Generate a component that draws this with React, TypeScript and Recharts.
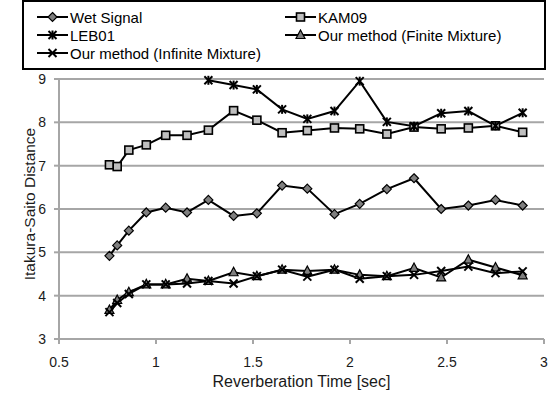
import React from 'react';
import { LineChart, Line, XAxis, YAxis, CartesianGrid } from 'recharts';

// reverberation times (sec) shared by every series
const times = [0.76, 0.8, 0.86, 0.95, 1.05, 1.16, 1.27, 1.4, 1.52, 1.65, 1.78, 1.92, 2.05, 2.19, 2.33, 2.47, 2.61, 2.75, 2.89];

const wetSignal = [4.92, 5.16, 5.5, 5.92, 6.03, 5.92, 6.21, 5.84, 5.9, 6.54, 6.47, 5.88, 6.12, 6.46, 6.71, 6.0, 6.08, 6.21, 6.08];
const kam09 = [7.02, 6.98, 7.36, 7.48, 7.7, 7.7, 7.82, 8.27, 8.05, 7.76, 7.81, 7.87, 7.85, 7.73, 7.89, 7.85, 7.87, 7.92, 7.77];
// LEB01 only starts at 1.27 sec
const leb01Times = times.slice(6);
const leb01 = [8.97, 8.86, 8.76, 8.3, 8.08, 8.26, 8.95, 8.01, 7.91, 8.21, 8.26, 7.92, 8.22];
const finiteMix = [3.67, 3.9, 4.08, 4.26, 4.26, 4.39, 4.34, 4.54, 4.45, 4.6, 4.57, 4.6, 4.48, 4.45, 4.64, 4.42, 4.83, 4.65, 4.47];
const infiniteMix = [3.62, 3.83, 4.04, 4.26, 4.26, 4.28, 4.34, 4.28, 4.45, 4.6, 4.44, 4.6, 4.39, 4.45, 4.48, 4.57, 4.67, 4.52, 4.56];

const xTicks = [0.5, 1, 1.5, 2, 2.5, 3];
const yTicks = [3, 4, 5, 6, 7, 8, 9];

const FONT = '"Liberation Sans", Arial, sans-serif';
const GRID = '#a6a6a6';
const TEXT = '#1a1a1a';

type Marker = 'diamond' | 'square' | 'star' | 'triangle' | 'cross';

function MarkerShape({ kind, cx, cy }: { kind: Marker; cx: number; cy: number }) {
  switch (kind) {
    case 'diamond':
      return (
        <polygon
          points={`${cx},${cy - 4.5} ${cx + 4.5},${cy} ${cx},${cy + 4.5} ${cx - 4.5},${cy}`}
          fill="#7f7f7f"
          stroke="#000"
          strokeWidth={1.2}
        />
      );
    case 'square':
      return <rect x={cx - 4} y={cy - 4} width={8} height={8} fill="#bfbfbf" stroke="#000" strokeWidth={1.6} />;
    case 'star':
      return (
        <g stroke="#000" strokeWidth={2}>
          <line x1={cx - 4} y1={cy - 4} x2={cx + 4} y2={cy + 4} />
          <line x1={cx - 4} y1={cy + 4} x2={cx + 4} y2={cy - 4} />
          <line x1={cx} y1={cy - 4.5} x2={cx} y2={cy + 4.5} />
        </g>
      );
    case 'triangle':
      return (
        <polygon
          points={`${cx},${cy - 5} ${cx + 4.5},${cy + 3.5} ${cx - 4.5},${cy + 3.5}`}
          fill="#7f7f7f"
          stroke="#000"
          strokeWidth={1.2}
        />
      );
    default:
      return (
        <g stroke="#000" strokeWidth={2}>
          <line x1={cx - 4} y1={cy - 4} x2={cx + 4} y2={cy + 4} />
          <line x1={cx - 4} y1={cy + 4} x2={cx + 4} y2={cy - 4} />
        </g>
      );
  }
}

const series: { name: string; marker: Marker; xs: number[]; ys: number[] }[] = [
  { name: 'Wet Signal', marker: 'diamond', xs: times, ys: wetSignal },
  { name: 'KAM09', marker: 'square', xs: times, ys: kam09 },
  { name: 'LEB01', marker: 'star', xs: leb01Times, ys: leb01 },
  { name: 'Our method (Finite Mixture)', marker: 'triangle', xs: times, ys: finiteMix },
  { name: 'Our method (Infinite Mixture)', marker: 'cross', xs: times, ys: infiniteMix },
];

// boxed legend sitting over the top of the plot, two columns
function LegendBox() {
  return (
    <div
      style={{
        position: 'absolute',
        left: 22,
        top: 0,
        boxSizing: 'border-box',
        width: 524,
        height: 70,
        border: '2px solid #000',
        background: '#fff',
        display: 'grid',
        gridTemplateColumns: '248px 260px',
        gridAutoRows: '18px',
        paddingTop: 6,
        paddingLeft: 13,
        fontFamily: FONT,
        fontSize: 15,
        color: '#000',
        zIndex: 2,
      }}
    >
      {series.map((s) => (
        <div key={s.name} style={{ display: 'flex', alignItems: 'center', whiteSpace: 'nowrap' }}>
          <svg width={31} height={12} style={{ marginRight: 2 }}>
            <line x1={0} y1={6} x2={31} y2={6} stroke="#000" strokeWidth={2} />
            <MarkerShape kind={s.marker} cx={15.5} cy={6} />
          </svg>
          <span>{s.name}</span>
        </div>
      ))}
    </div>
  );
}

export default function App() {
  return (
    <div style={{ position: 'relative', width: 548, height: 394, background: '#fff', fontFamily: FONT }}>
      <style>{'body{margin:0}'}</style>
      <LineChart width={548} height={394} margin={{ top: 79, right: 4, bottom: 0, left: 0 }}>
        <CartesianGrid vertical={false} stroke={GRID} strokeWidth={2} />
        <XAxis
          type="number"
          dataKey="x"
          domain={[0.5, 3]}
          ticks={xTicks}
          allowDataOverflow
          height={55}
          stroke={GRID}
          strokeWidth={2}
          tickSize={5}
          tickMargin={13}
          tick={{ fill: TEXT, fontSize: 14, fontFamily: FONT }}
          label={{
            value: 'Reverberation Time [sec]',
            position: 'insideBottom',
            offset: 7,
            fill: TEXT,
            fontSize: 16,
            fontFamily: FONT,
          }}
        />
        <YAxis
          type="number"
          dataKey="y"
          domain={[3, 9]}
          ticks={yTicks}
          width={59}
          stroke={GRID}
          strokeWidth={2}
          tickSize={5}
          tickMargin={8}
          tick={{ fill: TEXT, fontSize: 14, fontFamily: FONT }}
          label={{
            content: (props: any) => {
              const vb = props.viewBox || { x: 0, y: 79, width: 59, height: 260 };
              const cx = 29;
              const cy = vb.y + vb.height / 2 - 5;
              return (
                <text
                  x={cx}
                  y={cy}
                  transform={`rotate(-90 ${cx} ${cy})`}
                  textAnchor="middle"
                  dominantBaseline="central"
                  fill={TEXT}
                  fontSize={15.5}
                  fontFamily={FONT}
                >
                  Itakura-Saito Distance
                </text>
              );
            },
          }}
        />
        {series.map((s) => (
          <Line
            key={s.name}
            name={s.name}
            data={s.xs.map((x, i) => ({ x, y: s.ys[i] }))}
            dataKey="y"
            stroke="#000"
            strokeWidth={2}
            isAnimationActive={false}
            dot={(p: any) => (
              <g key={`${s.name}-${p.index}`}>
                <MarkerShape kind={s.marker} cx={p.cx} cy={p.cy} />
              </g>
            )}
            activeDot={false}
          />
        ))}
      </LineChart>
      <LegendBox />
    </div>
  );
}
